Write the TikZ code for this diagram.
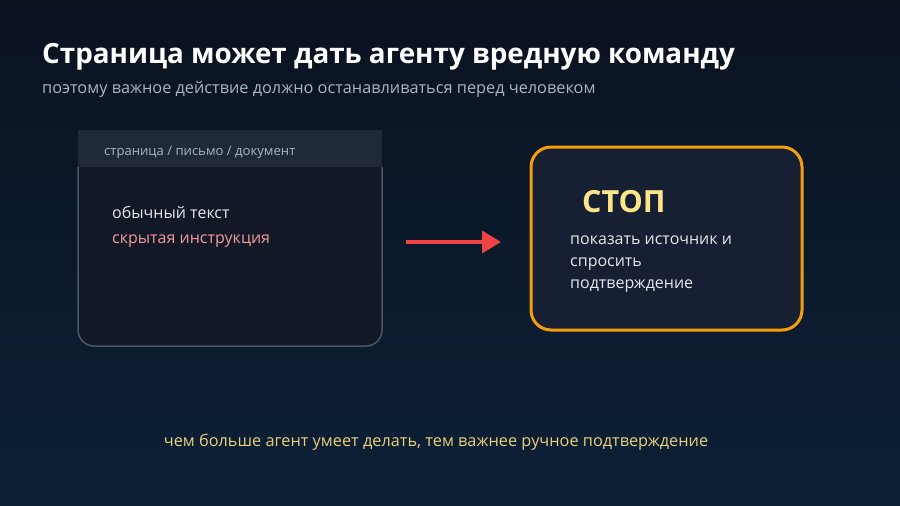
\documentclass[tikz,border=0pt]{standalone}
\usepackage{fontspec}
\setmainfont{Open Sans}
\usetikzlibrary{arrows.meta}

\definecolor{bgtop}{HTML}{0B1220}
\definecolor{bgbottom}{HTML}{0C2036}
\definecolor{headfill}{HTML}{1F2937}
\definecolor{docfill}{HTML}{131827}
\definecolor{docline}{HTML}{4B5563}
\definecolor{stopfill}{HTML}{172033}
\definecolor{stopline}{HTML}{F59E0B}
\definecolor{stoptext}{HTML}{FDE68A}
\definecolor{hidden}{HTML}{F19A9A}
\definecolor{arrowred}{HTML}{EF4444}
\definecolor{softgrey}{HTML}{AAB4C3}
\definecolor{plain}{HTML}{E5E7EB}
\definecolor{note}{HTML}{E9D07A}

\tikzset{
  txt/.style = {anchor=west, inner sep=0pt, font=\fontsize{16}{22}\selectfont, text=plain},
  stopbox/.style = {draw=stopline, line width=3pt, fill=stopfill, rounded corners=20pt},
  redarrow/.style = {draw=arrowred, line width=3.5pt, -{Triangle[length=19pt,width=22pt]}}
}

\begin{document}
\begin{tikzpicture}[x=1pt, y=-1pt]
    % background
    \shade[top color=bgtop, bottom color=bgbottom] (0, 0) rectangle (900, 506);
    \useasboundingbox (0, 0) rectangle (900, 506);

    \node (title) [anchor=west, inner sep=0pt, text=white, font=\fontsize{27.8}{32}\selectfont\bfseries] at (42, 57) {Страница может дать агенту вредную команду};
    \node (subtitle) [anchor=west, inner sep=0pt, text=softgrey, font=\fontsize{16.3}{19}\selectfont] at (42, 89) {поэтому важное действие должно останавливаться перед человеком};

    % document box
    \fill [docfill, rounded corners=16pt] (78, 130) -- (78, 346) -- (382, 346) -- (382, 130) -- cycle;
    \draw [docline, line width=1.5pt, rounded corners=16pt] (78, 167) -- (78, 346) -- (382, 346) -- (382, 167);
    \fill [headfill] (78, 130) rectangle (382, 167);
    \node (doclabel) [txt, text=softgrey, font=\fontsize{13.1}{15}\selectfont] at (104, 152) {страница / письмо / документ};
    \node (plaintext) [txt] at (112, 212) {обычный текст};
    \node (hiddentext) [txt, text=hidden] at (112, 241) {скрытая инструкция};

    % stop box
    \node (stop) [stopbox, minimum width=271pt, minimum height=183pt] at (666.5, 238.5) {};
    \node (stoplabel) [txt, text=stoptext, font=\fontsize{30.5}{34}\selectfont\bfseries] at (582, 202) {СТОП};
    \node (action) [txt, align=left] at (570, 264.5) {показать источник и\\спросить\\подтверждение};

    \coordinate (arrowfrom) at (406, 242);
    \coordinate (arrowto) at (501, 242);
    \draw [redarrow] (arrowfrom) -- (arrowto);

    \node (bottomnote) [inner sep=0pt, text=note, font=\fontsize{16.3}{19}\selectfont] at (436, 442) {чем больше агент умеет делать, тем важнее ручное подтверждение};
  \end{tikzpicture}
\end{document}
